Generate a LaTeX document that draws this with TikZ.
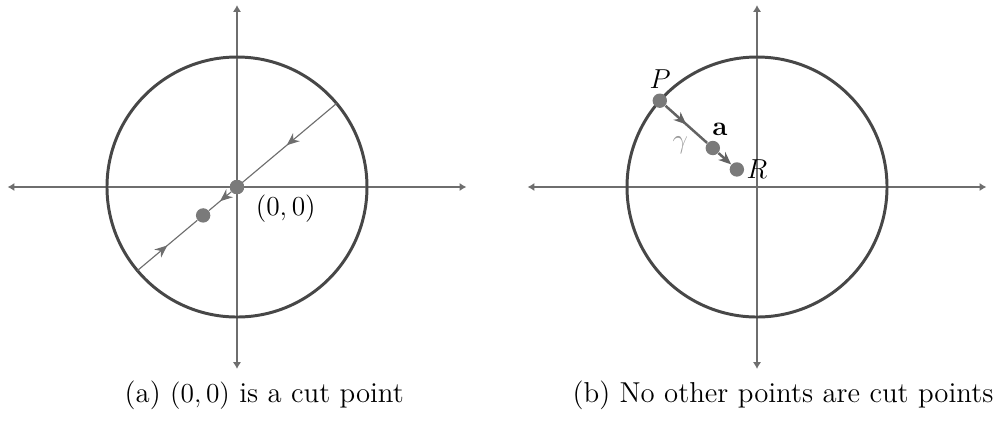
\documentclass[tikz,border=0pt]{standalone}
\usetikzlibrary{arrows.meta,decorations.markings}
\definecolor{axisgray}{HTML}{6E6E6E}
\definecolor{rimgray}{HTML}{474747}
\definecolor{dotgray}{HTML}{7A7A7A}
\definecolor{labgray}{HTML}{9A9A9A}
\begin{document}
\begin{tikzpicture}[
   x=1cm,y=1cm,
   axis/.style={draw=axisgray,line width=0.9pt,{Latex[length=3pt,width=3.6pt]}-{Latex[length=3pt,width=3.6pt]}},
   rim/.style={draw=rimgray,line width=1.3pt},
   pt/.style={circle,fill=dotgray,inner sep=0pt,minimum size=6.3pt},
   thin line/.style={draw=axisgray,line width=0.5pt},
   midarrow/.style={postaction={decorate},decoration={markings,
      mark=at position 0.5 with {\arrow{Stealth[length=5.5pt,width=4.6pt]}}}},
   every node/.style={font=\fontsize{12.6}{15}\selectfont}
 ]
  \useasboundingbox (-3.646,-3.6) rectangle (11.692,2.877);
  % (a)
  \coordinate (xl) at (-3.53,0);
  \coordinate (xr) at (3.53,0);
  \coordinate (yb) at (0,-2.8);
  \coordinate (yt) at (0,2.8);
  \draw[axis] (xl) -- (xr);
  \draw[axis] (yb) -- (yt);
  \draw[rim] (0,0) circle (2);
  \coordinate (top) at (40:2);
  \coordinate (bot) at (220:2);
  \node[pt] (o) at (0,0) {};
  \node[pt] (q) at (220:0.68) {};
  \draw[thin line,midarrow] (top) -- (o.center);
  \draw[thin line,midarrow] (o) -- (q);
  \draw[thin line,midarrow] (bot) -- (q);
  \node[pt] at (0,0) {};
  \node (olab) at (0.75,-0.33) {$(0,0)$};
  \node[anchor=base] (capa) at (0.42,-3.32) {(a) $(0,0)$ is a cut point};
  % (b)
  \begin{scope}[xshift=8cm]
  \coordinate (xl2) at (-3.53,0);
  \coordinate (xr2) at (3.53,0);
  \coordinate (yb2) at (0,-2.8);
  \coordinate (yt2) at (0,2.8);
  \draw[axis] (xl2) -- (xr2);
  \draw[axis] (yb2) -- (yt2);
  \draw[rim] (0,0) circle (2);
  \node[pt] (P) at (138.4:2) {};
  \node[pt] (a) at (-0.68,0.6) {};
  \node[pt] (R) at (-0.31,0.27) {};
  \draw[draw=rimgray!85,line width=1.1pt,midarrow] (P) -- (a);
  \draw[draw=rimgray!85,line width=1.1pt,-{Stealth[length=5.5pt,width=4.6pt]}] (a) -- (R);
  \node (Plab) at (-1.49,1.66) {$P$};
  \node (alab) at (-0.57,0.88) {$\mathbf{a}$};
  \node[text=labgray] (glab) at (-1.18,0.64) {$\gamma$};
  \node (Rlab) at (0.0,0.27) {$R$};
  \node[anchor=base] (capb) at (0.4,-3.32) {(b) No other points are cut points};
  \end{scope}
 \end{tikzpicture}
\end{document}
